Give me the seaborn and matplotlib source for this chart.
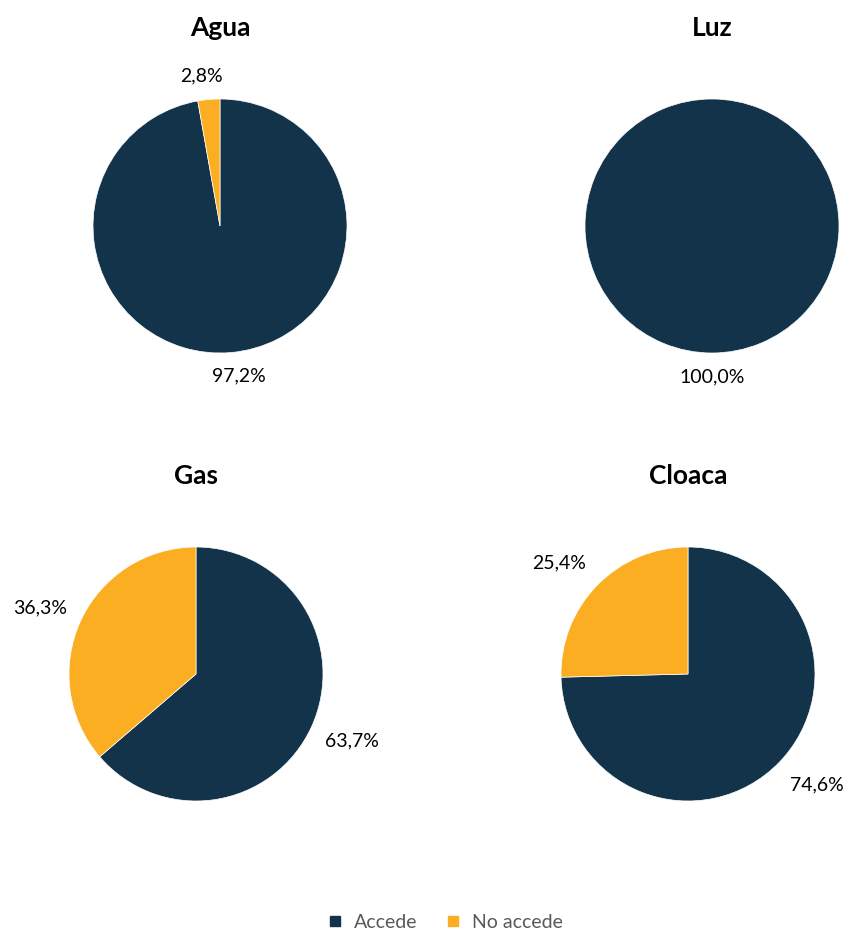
import matplotlib
matplotlib.use("Agg")
import matplotlib.pyplot as plt
from matplotlib.lines import Line2D
import seaborn as sns

# Porcentaje de hogares que acceden a cada servicio
servicios = ["Agua", "Luz", "Gas", "Cloaca"]
accede = [97.2, 100.0, 63.7, 74.6]
no_accede = [2.8, 0.0, 36.3, 25.4]
categorias = ["Accede", "No accede"]

sns.set_theme(style="white")
plt.rcParams["font.family"] = ["Lato", "DejaVu Sans"]
colores = ["#12334a", "#fbae22"]

W, H = 853, 932
fig = plt.figure(figsize=(W / 100, H / 100), dpi=100)

# centros de cada torta en pixeles
centros = [(220, 226), (712, 226), (196, 674), (688, 674)]
r = 127

def fmt(v):
    return f"{v:.1f}%".replace(".", ",")

for nombre, a, n, (cx, cy) in zip(servicios, accede, no_accede, centros):
    ax = fig.add_axes([(cx - r) / W, (H - cy - r) / H, 2 * r / W, 2 * r / H])
    vals = [v for v in (a, n) if v > 0]
    cols = [c for v, c in zip((a, n), colores) if v > 0]
    wedges, texts = ax.pie(vals, colors=cols, startangle=90, counterclock=False,
                           labels=[fmt(v) for v in vals], labeldistance=1.12,
                           wedgeprops=dict(linewidth=0.5, edgecolor="white"),
                           textprops=dict(fontsize=14, color="#000000"))
    for t in texts:
        x, y = t.get_position()
        if abs(x) < 0.2:
            t.set_ha("center")
            t.set_position((x * 1.5, y * 1.06))
        else:
            t.set_position((x, y * 1.12))
    ax.set_xlim(-1, 1)
    ax.set_ylim(-1, 1)
    ax.set_aspect("equal")
    fig.text(cx / W, 1 - (cy - 198) / H, nombre, ha="center", va="center",
             fontsize=19, fontweight="bold", color="#000000")

handles = [Line2D([], [], marker="s", linestyle="none", markersize=7,
                  color=c) for c in colores]
fig.legend(handles, categorias, loc="center", bbox_to_anchor=(439 / W, 1 - 922 / H),
           ncol=2, frameon=False, fontsize=14, handletextpad=0.0,
           columnspacing=0.8, labelcolor="#595959")

fig.savefig("out.png", dpi=100)
